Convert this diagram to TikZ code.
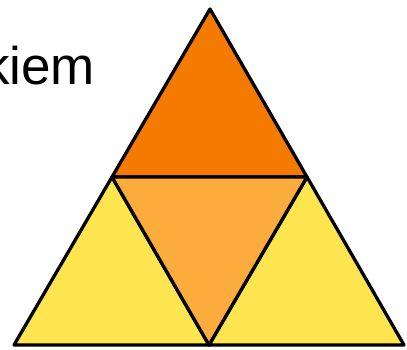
\documentclass[tikz,border=0pt]{standalone}
\usepackage{fontspec}
\setmainfont{Liberation Sans}
\usepackage{xcolor}

\definecolor{orangeTop}{HTML}{F47B00}
\definecolor{orangeMid}{HTML}{FBAC3C}
\definecolor{yellowSide}{HTML}{FCE54E}

\begin{document}
\begin{tikzpicture}[x=1pt,y=-1pt,line join=round,
  tri/.style={draw=black,line width=3.3pt}]

\useasboundingbox (0,0) rectangle (407,349);
\clip (0,0) rectangle (407,349);

\coordinate (top) at (210,9);
\coordinate (bl) at (14,345);
\coordinate (br) at (404,345);
\coordinate (ml) at (112,177);
\coordinate (mr) at (307,177);
\coordinate (mb) at (209,345);

% oben
\filldraw[tri,fill=orangeTop] (top) -- (mr) -- (ml) -- cycle;

% links unten
\filldraw[tri,fill=yellowSide] (ml) -- (mb) -- (bl) -- cycle;

% rechts unten
\filldraw[tri,fill=yellowSide] (mr) -- (br) -- (mb) -- cycle;

% mitte
\filldraw[tri,fill=orangeMid] (ml) -- (mr) -- (mb) -- cycle;

\node[anchor=base west,inner sep=0pt,font=\fontsize{53}{53}\selectfont] (word) at (-17,84) {kiem};

\end{tikzpicture}
\end{document}
